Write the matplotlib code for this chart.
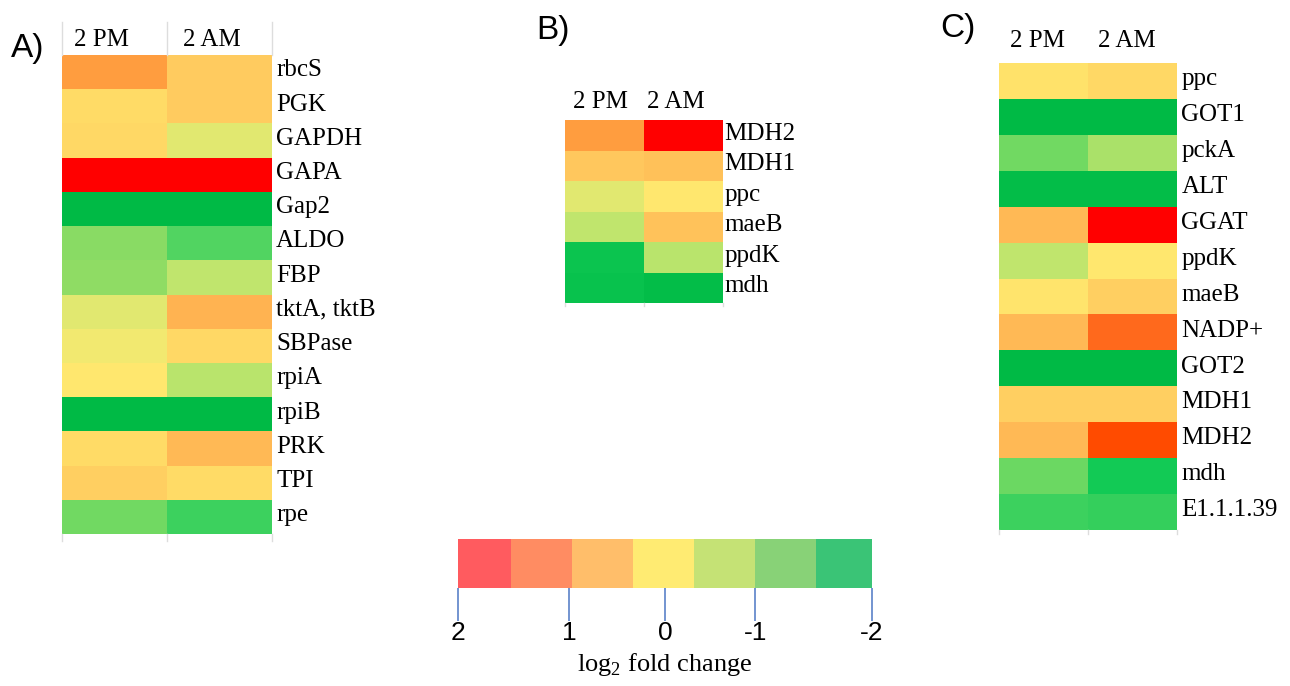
import numpy as np
import matplotlib
matplotlib.use("Agg")
import matplotlib.pyplot as plt
from matplotlib.colors import LinearSegmentedColormap, Normalize, ListedColormap

plt.rcParams['mathtext.fontset'] = 'custom'
plt.rcParams['mathtext.rm'] = 'Liberation Serif'

# ---------------- data ----------------
columns = ["2 PM", "2 AM"]

genes_a = ["rbcS", "PGK", "GAPDH", "GAPA", "Gap2", "ALDO", "FBP", "tktA, tktB",
           "SBPase", "rpiA", "rpiB", "PRK", "TPI", "rpe"]
pm_a = [1.0, 0.25, 0.3, 2.0, -2.0, -0.85, -0.8, -0.25, -0.1, 0.05, -2.0, 0.25, 0.45, -1.05]
am_a = [0.5, 0.5, -0.25, 2.0, -2.0, -1.3, -0.45, 0.75, 0.3, -0.5, -2.0, 0.7, 0.25, -1.45]

genes_b = ["MDH2", "MDH1", "ppc", "maeB", "ppdK", "mdh"]
pm_b = [1.0, 0.55, -0.25, -0.45, -1.8, -1.85]
am_b = [2.0, 0.62, 0.05, 0.6, -0.5, -1.95]

genes_c = ["ppc", "GOT1", "pckA", "ALT", "GGAT", "ppdK", "maeB", "NADP+",
           "GOT2", "MDH1", "MDH2", "mdh", "E1.1.1.39"]
pm_c = [0.15, -2.0, -1.05, -1.95, 0.7, -0.45, 0.1, 0.7, -2.0, 0.45, 0.7, -1.1, -1.45]
am_c = [0.3, -2.0, -0.6, -1.95, 2.0, 0.05, 0.45, 1.5, -2.0, 0.45, 1.75, -1.7, -1.5]

legend_colors = ["#FF5B5F", "#FF8C62", "#FFBE6A", "#FFEB72", "#C5E275", "#88D277", "#3AC476"]
legend_edges = [0, 0.9, 1.93, 2.96, 3.99, 5.02, 6.05, 7.0]
legend_tick_pos = [0, 1.88, 3.5, 5.03, 7.0]
legend_tick_labels = ["2", "1", "0", "-1", "-2"]

# colormap for heat cells (value -> colour)
cmap_nodes = [(-2.0, "#00BA45"), (-1.7, "#12CA55"), (-1.4, "#45D260"), (-1.1, "#6CD862"),
              (-0.8, "#90DC64"), (-0.5, "#B8E46C"), (-0.25, "#E0E870"), (0.0, "#FFEA70"),
              (0.25, "#FFDC66"), (0.5, "#FFCC60"), (0.75, "#FFB452"), (1.0, "#FF9E40"),
              (1.5, "#FF6A1E"), (1.75, "#FF5000"), (2.0, "#FF0000")]
cmap = LinearSegmentedColormap.from_list(
    "fc", [((v + 2) / 4, c) for v, c in cmap_nodes])
norm = Normalize(vmin=-2, vmax=2)

W, H = 1290, 686
fig = plt.figure(figsize=(W / 100, H / 100), dpi=100)

def px_axes(x0, y0, x1, y1):
    return fig.add_axes([x0 / W, 1 - y1 / H, (x1 - x0) / W, (y1 - y0) / H])

serif = "Liberation Serif"
sans = "Liberation Sans"

def heat(ax, genes, pm, am, label_dx=0.06, col_y=-0.5, col_x=(0.5, 1.5), fs=18,
         grid_above=0.0, grid_below=0.0):
    data = np.column_stack([pm, am])
    n = len(genes)
    ax.pcolormesh(np.arange(3), np.arange(n + 1), data, cmap=cmap, norm=norm)
    ax.set_xlim(0, 2)
    ax.set_ylim(n, 0)
    ax.axis("off")
    for i, g in enumerate(genes):
        ax.text(2 + label_dx, i + 0.45, g, family=serif, fontsize=fs, va="center", ha="left")
    for xc, c in zip(col_x, columns):
        ax.text(xc, col_y, c, family=serif, fontsize=fs, va="center", ha="center")
    grey = "#DDDDDD"
    for xv in (0, 1, 2):
        if grid_above:
            ax.plot([xv, xv], [0, -grid_above], color=grey, lw=1, clip_on=False)
        if grid_below:
            ax.plot([xv, xv], [n, n + grid_below], color=grey, lw=1, clip_on=False)

# Panel A
axA = px_axes(62, 55, 272, 534)
heat(axA, genes_a, pm_a, am_a, label_dx=0.04, col_y=-0.45, col_x=(0.38, 1.43),
     grid_above=0.95, grid_below=0.2)
fig.text(11 / W, 1 - 48 / H, "A)", family=sans, fontsize=24, va="center", ha="left")

# Panel B
axB = px_axes(565, 120, 723, 303)
heat(axB, genes_b, pm_b, am_b, label_dx=0.02, col_y=-0.6, col_x=(0.45, 1.4), grid_below=0.1)
fig.text(536 / W, 1 - 30 / H, "B)", family=sans, fontsize=24, va="center", ha="left")

# Panel C
axC = px_axes(999, 63, 1177, 530)
heat(axC, genes_c, pm_c, am_c, label_dx=0.05, col_y=-0.6, col_x=(0.43, 1.44), grid_below=0.1)
fig.text(940 / W, 1 - 28 / H, "C)", family=sans, fontsize=24, va="center", ha="left")

# Legend bar
axL = px_axes(458, 539, 872, 588)
axL.pcolormesh(legend_edges, [0, 1], np.arange(7)[None, :],
               cmap=ListedColormap(legend_colors), vmin=-0.5, vmax=6.5)
axL.set_xlim(0, 7)
axL.set_ylim(0, 1)
for s in axL.spines.values():
    s.set_visible(False)
axL.set_yticks([])
axL.set_xticks(legend_tick_pos)
axL.set_xticklabels(legend_tick_labels, family=sans, fontsize=19)
axL.tick_params(axis="x", direction="out", length=24, width=1.2, color="#5B82C8", pad=0)
fig.text(665 / W, 1 - 665 / H, r"$\mathrm{log}_2$ fold change", family=serif,
         fontsize=19, ha="center", va="center")

fig.savefig("out.png", dpi=100)
